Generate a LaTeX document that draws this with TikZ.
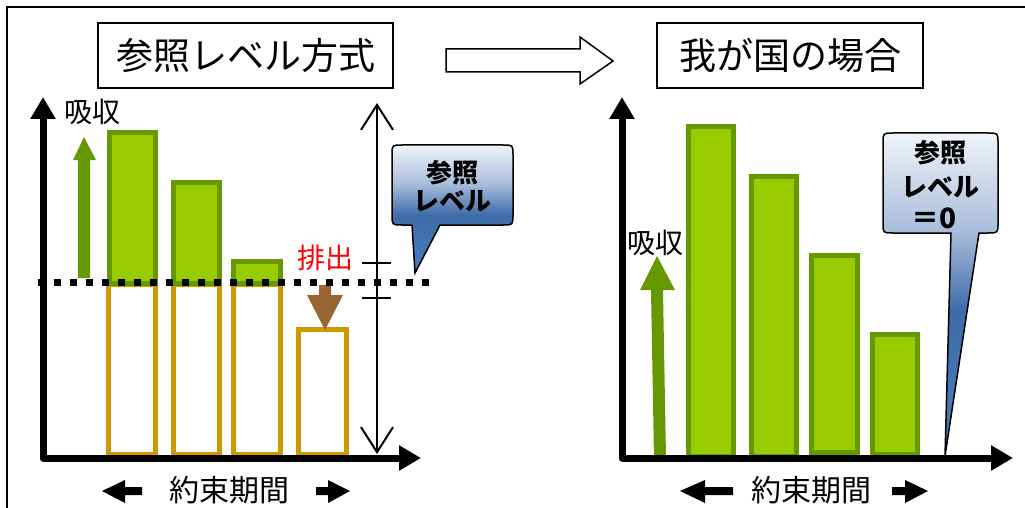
\documentclass[tikz,border=0pt]{standalone}
\usepackage{fontspec}
\newfontfamily\jp{Noto Sans CJK JP}
\usetikzlibrary{arrows.meta}
\definecolor{gfill}{HTML}{99CC00}
\definecolor{gline}{HTML}{669900}
\definecolor{oline}{HTML}{CC9900}
\definecolor{brn}{HTML}{996633}
\definecolor{ctop}{HTML}{F0F4F9}
\definecolor{clight}{HTML}{A9BEDB}
\definecolor{cmid}{HTML}{3D6BA8}
\definecolor{cbot}{HTML}{4A7EBF}
\pgfdeclareverticalshading{calloutshade}{100bp}{color(0bp)=(cbot); color(25bp)=(cbot); color(47.5bp)=(cmid); color(60bp)=(clight); color(75bp)=(ctop); color(100bp)=(ctop)}
\begin{document}
\begin{tikzpicture}[x=1pt,y=-1pt,font=\jp,
  axisline/.style={line width=7pt,line join=round,{Triangle[length=22pt,width=24pt]}-{Triangle[length=22pt,width=24pt]}},
  gbar/.style={fill=gfill,draw=gline,line width=5pt},
  obar/.style={draw=oline,line width=5pt},
  titlebox/.style={draw,line width=2pt,minimum height=65pt,inner sep=0pt,font=\jp\fontsize{37}{40}\selectfont},
  lbl/.style={inner sep=0pt,font=\jp\fontsize{28}{30}\selectfont},
  clbl/.style={inner sep=0pt,font=\jp\bfseries\fontsize{26}{28}\selectfont},
  callout/.style={draw=black,line width=1.5pt,shading=calloutshade},
  blk/.style={fill=black}]
\useasboundingbox (0,0) rectangle (1025,508);
% outer frame
\draw[line width=1.6pt] (7,508) -- (7,7) -- (1025,7);
% titles
\node[titlebox,minimum width=295pt] (t1) at (245.5,55.5) {参照レベル方式};
\node[titlebox,minimum width=266pt] (t2) at (790,55.5) {我が国の場合};
% hollow arrow
\draw[line width=1.5pt,fill=white] (446,49) -- (580,49) -- (580,37) -- (613,61) -- (580,84) -- (580,72) -- (446,72) -- cycle;

% ===== left chart =====
% orange bars
\draw[obar] (108.5,284.5) rectangle (155.5,454);
\draw[obar] (173.5,284.5) rectangle (219.5,454);
\draw[obar] (233.5,284.5) rectangle (280.5,454);
\draw[obar] (298.5,329.5) rectangle (346.5,454);
% green bars
\draw[gbar] (109.5,132.5) rectangle (155.5,283);
\draw[gbar] (173.5,182.5) rectangle (219.5,283);
\draw[gbar] (233.5,261.5) rectangle (280.5,283);
% green arrow
\fill[gline] (78,278) -- (78,160) -- (73,160) -- (84,137) -- (96,160) -- (90,160) -- (90,278) -- cycle;
% brown arrow
\fill[brn] (319,285) -- (331,285) -- (331,295) -- (343,295) -- (325,330) -- (307,295) -- (319,295) -- cycle;
% dotted level line
\draw[line width=7pt,dash pattern=on 7pt off 9pt] (38,282) -- (430,282);
% axes
\draw[axisline] (43,97) -- (43,458) -- (421,458);
% measurement arrow
\coordinate (vtop) at (377,103);
\coordinate (vbot) at (377,454);
\draw[line width=2pt,{Straight Barb[length=25pt,width=32pt]}-{Straight Barb[length=25pt,width=32pt]}] (vtop) -- (vbot);
\draw[line width=2pt] (362,263) -- (391,263);
\draw[line width=2pt] (362,298) -- (391,298);
% labels
\node[lbl] (k1) at (92,112) {吸収};
\node[lbl,text=red] (h1) at (325,258) {排出};
% callout left
\path[callout] (440,225) -- (503,225) .. controls (513,225) .. (513,215) -- (513,155) .. controls (513,145) .. (503,145) -- (402,145) .. controls (392,145) .. (392,155) -- (392,215) .. controls (392,225) .. (402,225) -- (412,225) -- (415,273) -- cycle;
\node[clbl] (c1a) at (452,173) {参照};
\node[clbl] (c1b) at (452,201) {レベル};
% bottom label
\node[lbl,font=\jp\fontsize{30}{32}\selectfont] (y1) at (229,490) {約束期間};
\fill[blk] (102,491) -- (125,480) -- (125,487) -- (142,487) -- (142,495) -- (125,495) -- (125,503) -- cycle;
\fill[blk] (350,491) -- (328,480) -- (328,487) -- (316,487) -- (316,495) -- (328,495) -- (328,503) -- cycle;

% ===== right chart =====
\draw[gbar] (688.5,126.5) rectangle (733.5,456);
\draw[gbar] (751.5,176.5) rectangle (796.5,456);
\draw[gbar] (811.5,255.5) rectangle (857.5,452);
\draw[gbar] (872.5,334.5) rectangle (917.5,454);
% green arrow (slightly slanted)
\fill[gline] (654,458) -- (651,290) -- (640,290) -- (657,256) -- (675,290) -- (663,290) -- (666,458) -- cycle;
% axes
\draw[axisline] (622,97) -- (622,458) -- (1013,458);
\node[lbl] (k2) at (655,243) {吸収};
% callout right
\path[callout] (979,233) -- (988,233) .. controls (998,233) .. (998,223) -- (998,143) .. controls (998,133) .. (988,133) -- (893,133) .. controls (883,133) .. (883,143) -- (883,223) .. controls (883,233) .. (893,233) -- (951,233) -- (945,456) -- cycle;
\node[clbl] (c2a) at (940,153) {参照};
\node[clbl] (c2b) at (940,187) {レベル};
\node[clbl,font=\jp\bfseries\fontsize{28}{30}\selectfont] (c2c) at (934,218) {＝0};
% bottom label
\node[lbl,font=\jp\fontsize{30}{32}\selectfont] (y2) at (811,490) {約束期間};
\fill[blk] (680,491) -- (705,480) -- (705,487) -- (733,487) -- (733,495) -- (705,495) -- (705,503) -- cycle;
\fill[blk] (928,491) -- (905,480) -- (905,487) -- (892,487) -- (892,495) -- (905,495) -- (905,503) -- cycle;
\end{tikzpicture}
\end{document}
